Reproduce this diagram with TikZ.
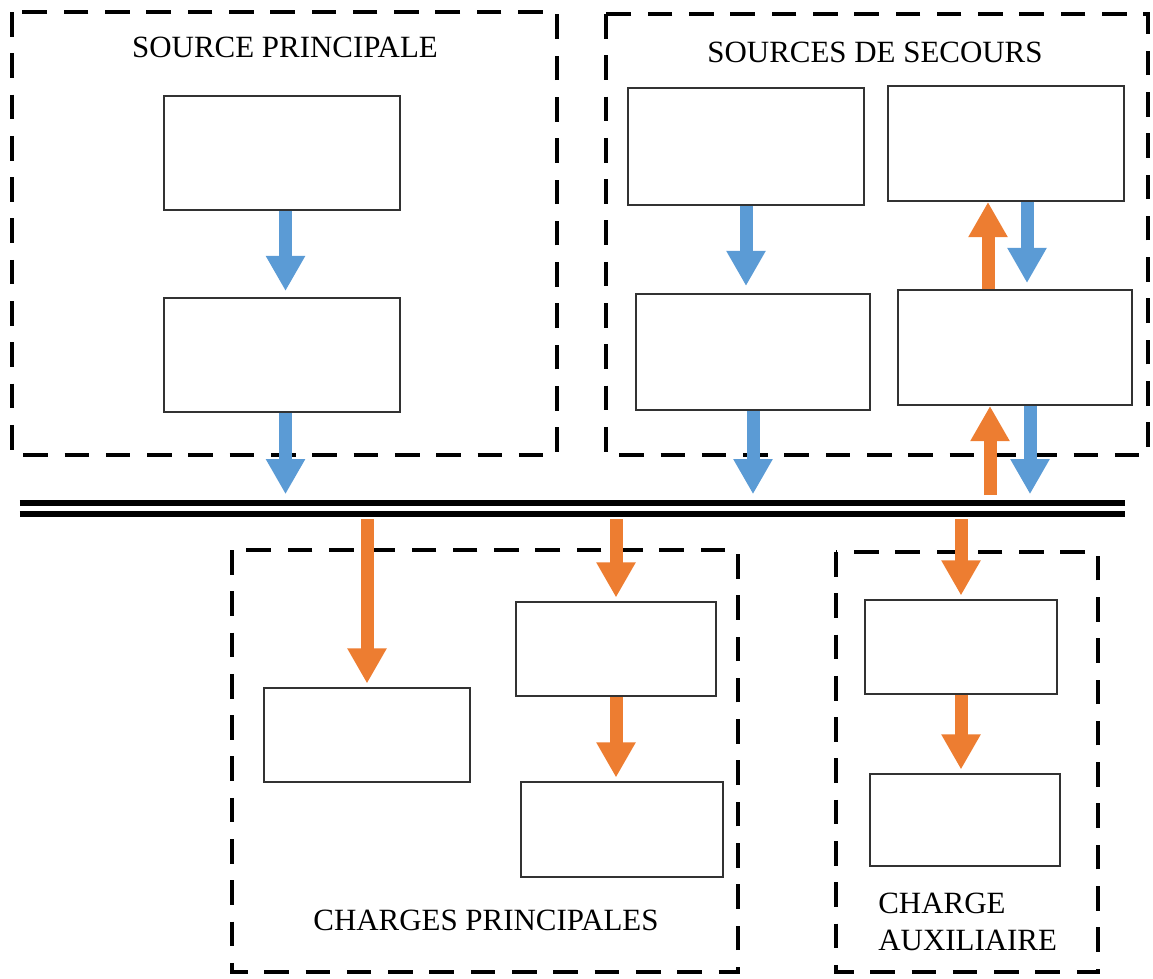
\documentclass[tikz,border=0pt]{standalone}
\usepackage{fontspec}
\setmainfont{Liberation Serif}
\usepackage{tikz}
\usetikzlibrary{arrows.meta, positioning, calc}
\definecolor{myblue}{RGB}{91,155,213}
\definecolor{myorange}{RGB}{237,125,49}
\definecolor{boxgray}{RGB}{50,50,50}
\tikzset{
  box/.style={rectangle, draw=boxgray, line width=1.1pt, inner sep=0pt},
  frame/.style={draw=black, line width=2.4pt, dash pattern=on 14pt off 9.5pt},
  title/.style={font=\fontsize{17.6}{21}\selectfont, inner sep=0pt},
  bluearrow/.style={-{Triangle[width=21pt,length=20pt]}, line width=7.4pt,
    color=myblue, shorten >=2pt},
  orangearrow/.style={-{Triangle[width=21pt,length=20pt]}, line width=7.4pt,
    color=myorange, shorten >=2pt},
  bus/.style={line width=3.2pt, color=black}
}

\begin{document}
\begin{tikzpicture}
  \useasboundingbox (0,0) rectangle (23.06,-19.56);

  % Frames
  \draw[frame] (0.24,-0.24) rectangle (11.14,-9.10);
  \draw[frame] (12.12,-0.28) rectangle (22.96,-9.10);
  \draw[frame] (4.64,-11.00) rectangle (14.76,-19.44);
  \draw[frame] (16.72,-11.04) rectangle (21.96,-19.44);

  \node[title] (sptitle) at (5.70,-0.94) {SOURCE PRINCIPALE};
  \node[title] (sstitle) at (17.50,-1.04) {SOURCES DE SECOURS};
  \node[title] (cptitle) at (9.72,-18.40) {CHARGES PRINCIPALES};
  \node[title, align=left, anchor=west] (catitle) at (17.56,-18.43) {CHARGE\\AUXILIAIRE};

  % Source principale
  \node[box, minimum width=4.72cm, minimum height=2.28cm] (sp1) at (5.64,-3.06) {};
  \node[box, minimum width=4.72cm, minimum height=2.28cm] (sp2) at (5.64,-7.10) {};

  % Sources de secours
  \node[box, minimum width=4.72cm, minimum height=2.34cm] (ss1) at (14.92,-2.93) {};
  \node[box, minimum width=4.72cm, minimum height=2.30cm] (ss2) at (20.12,-2.87) {};
  \node[box, minimum width=4.68cm, minimum height=2.32cm] (ss3) at (15.06,-7.04) {};
  \node[box, minimum width=4.68cm, minimum height=2.30cm] (ss4) at (20.30,-6.95) {};

  % Charges
  \node[box, minimum width=4.12cm, minimum height=1.88cm] (cp1) at (7.34,-14.70) {};
  \node[box, minimum width=4.00cm, minimum height=1.88cm] (cp2) at (12.32,-12.98) {};
  \node[box, minimum width=4.04cm, minimum height=1.90cm] (cp3) at (12.44,-16.59) {};
  \node[box, minimum width=3.84cm, minimum height=1.88cm] (ca1) at (19.22,-12.94) {};
  \node[box, minimum width=3.80cm, minimum height=1.84cm] (ca2) at (19.30,-16.40) {};

  % Bus
  \coordinate (busA) at (0.40,-10.06);
  \coordinate (busB) at (22.50,-10.06);
  \coordinate (busC) at (0.40,-10.28);
  \coordinate (busD) at (22.50,-10.28);
  \draw[bus] (busA) -- (busB);
  \draw[bus] (busC) -- (busD);

  % Paths
  \draw[bluearrow, shorten >=3.4pt] ([xshift=2pt]sp1.south) -- ([xshift=2pt]sp2.north);
  \draw[bluearrow, shorten >=5pt] ([xshift=2pt]sp2.south) -- ([xshift=2pt]sp2.south |- busA);
  \draw[bluearrow, shorten >=4pt] (ss1.south) -- (ss1.south |- ss3.north);
  \draw[bluearrow, shorten >=5pt] (ss3.south) -- (ss3.south |- busA);
  \draw[bluearrow, shorten >=3.4pt] ([xshift=0.42cm]ss2.south) -- ([xshift=0.42cm]ss2.south |- ss4.north);
  \draw[bluearrow, shorten >=5pt] ([xshift=0.30cm]ss4.south) -- ([xshift=0.30cm]ss4.south |- busA);

  \draw[orangearrow, shorten >=0pt] ([xshift=-0.54cm]ss4.north) -- ([xshift=-0.54cm]ss4.north |- ss2.south);
  \draw[orangearrow, shorten >=0pt, shorten <=4.5pt] ([xshift=-0.50cm]ss4.south |- busA) -- ([xshift=-0.50cm]ss4.south);
  \draw[orangearrow, shorten <=3pt] (cp1.north |- busC) -- (cp1.north);
  \draw[orangearrow, shorten <=3pt] (cp2.north |- busC) -- (cp2.north);
  \draw[orangearrow] (cp2.south) -- (cp2.south |- cp3.north);
  \draw[orangearrow, shorten <=3pt] (ca1.north |- busC) -- (ca1.north);
  \draw[orangearrow] (ca1.south) -- (ca1.south |- ca2.north);
\end{tikzpicture}
\end{document}
